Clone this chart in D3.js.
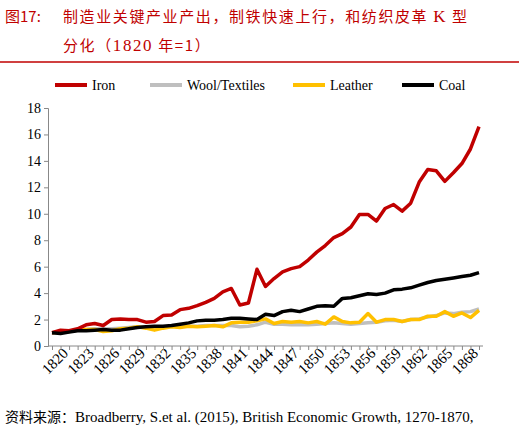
<!DOCTYPE html>
<html><head><meta charset="UTF-8">
<script src="https://d3js.org/d3.v7.min.js"></script>
<style>body{margin:0;background:#fff}</style>
</head><body>
<svg id="c" width="519" height="433"></svg>
<script>
var years = d3.range(1820, 1871);
var iron = [1.0,1.2,1.15,1.3,1.6,1.7,1.55,2.0,2.05,2.0,2.0,1.8,1.85,2.3,2.35,2.75,2.85,3.05,3.3,3.6,4.1,4.35,3.1,3.25,5.8,4.5,5.1,5.6,5.85,6.0,6.5,7.1,7.6,8.2,8.5,9.0,9.95,9.95,9.45,10.4,10.7,10.2,10.8,12.4,13.35,13.25,12.45,13.1,13.8,14.9,16.6];
var wool = [1.0,1.05,1.1,1.2,1.25,1.3,1.3,1.3,1.35,1.4,1.45,1.45,1.4,1.45,1.5,1.5,1.5,1.5,1.55,1.55,1.55,1.55,1.45,1.5,1.6,1.8,1.65,1.65,1.6,1.6,1.6,1.65,1.7,1.75,1.7,1.65,1.7,1.75,1.8,1.9,1.95,1.85,2.0,2.05,2.2,2.3,2.5,2.45,2.55,2.6,2.8];
var leather = [1.0,1.05,1.1,1.2,1.25,1.25,1.1,1.15,1.3,1.35,1.45,1.35,1.2,1.35,1.45,1.4,1.5,1.45,1.5,1.55,1.45,1.75,1.8,1.8,1.9,2.05,1.7,1.85,1.8,1.85,1.75,1.85,1.65,2.2,1.85,1.75,1.8,2.45,1.8,2.0,2.0,1.85,2.0,2.0,2.25,2.25,2.6,2.25,2.5,2.15,2.7];
var coal = [1.0,0.95,1.05,1.15,1.15,1.2,1.25,1.2,1.2,1.3,1.4,1.45,1.5,1.5,1.55,1.65,1.75,1.9,1.95,1.95,2.0,2.1,2.1,2.05,2.0,2.4,2.3,2.6,2.7,2.6,2.8,3.0,3.05,3.0,3.6,3.65,3.8,3.95,3.9,4.0,4.25,4.3,4.4,4.6,4.8,4.95,5.05,5.15,5.25,5.35,5.55];
var seriesNames = ["Iron", "Wool/Textiles", "Leather", "Coal"];
var seriesColors = ["#c00000", "#bfbfbf", "#ffc000", "#000000"];
var yTicks = d3.range(0, 19, 2);
var labelYears = d3.range(1820, 1870, 3);

var svg = d3.select("#c");
var serif = "'Liberation Serif','DejaVu Serif',serif";
var cjk = "'Noto Sans CJK SC',sans-serif";

// title
svg.append("text").attr("x", 5).attr("y", 22).attr("fill", "#c00000").attr("font-size", 15)
  .attr("font-family", cjk).text("图17:");
var t = svg.append("text").attr("x", 63).attr("y", 22).attr("fill", "#c00000").attr("font-size", 15).attr("letter-spacing", 1.6);
t.append("tspan").attr("font-family", cjk).text("制造业关键产业产出，制铁快速上行，和纺织皮革 ");
t.append("tspan").attr("font-family", serif).attr("font-size", 17).text("K");
t.append("tspan").attr("font-family", cjk).text(" 型");
var t2 = svg.append("text").attr("x", 63).attr("y", 51).attr("fill", "#c00000").attr("font-size", 15).attr("letter-spacing", 1.6);
t2.append("tspan").attr("font-family", cjk).text("分化（");
t2.append("tspan").attr("font-family", serif).attr("font-size", 17).text("1820");
t2.append("tspan").attr("font-family", cjk).text(" 年=1）");
svg.append("line").attr("x1", 0).attr("x2", 519).attr("y1", 62).attr("y2", 62).attr("stroke", "#c00000").attr("stroke-width", 1.5);

var x = d3.scaleLinear().domain([1820, 1870]).range([52, 479]);
var y = d3.scaleLinear().domain([0, 18]).range([346, 108]);

svg.append("g").attr("transform", "translate(48,0)")
  .call(d3.axisLeft(y).tickValues(yTicks).tickSize(4))
  .call(g => g.select(".domain").attr("stroke", "#888"))
  .call(g => g.selectAll(".tick line").attr("stroke", "#888"))
  .call(g => g.selectAll("text").attr("font-family", serif).attr("font-size", 14).attr("fill", "#000"));

svg.append("g").attr("transform", "translate(0,346)")
  .call(d3.axisBottom(x).tickValues(years).tickSize(4).tickFormat(d => labelYears.includes(d) ? d : ""))
  .call(g => g.select(".domain").attr("d", "M48,0H483").attr("stroke", "#888"))
  .call(g => g.selectAll(".tick line").attr("stroke", "#888"))
  .call(g => g.selectAll("text").attr("font-family", serif).attr("font-size", 15).attr("fill", "#000")
    .attr("text-anchor", "end").attr("dx", "0.4em").attr("dy", "0.7em").attr("transform", "rotate(-45)"));

var line = d3.line().x((d, i) => x(years[i])).y(d => y(d));
[wool, leather, iron, coal].forEach(function (s) {
  var k = [iron, wool, leather, coal].indexOf(s);
  svg.append("path").datum(s).attr("d", line).attr("fill", "none")
    .attr("stroke", seriesColors[k]).attr("stroke-width", 3.5).attr("stroke-linejoin", "round");
});

// legend
var lx = [55, 150, 293, 402];
seriesNames.forEach(function (n, i) {
  var g = svg.append("g").attr("transform", "translate(" + lx[i] + ",85)");
  g.append("line").attr("x1", 0).attr("x2", 32).attr("stroke", seriesColors[i]).attr("stroke-width", 4);
  g.append("text").attr("x", 37).attr("y", 5).attr("font-family", serif).attr("font-size", 14).text(n);
});

var f = svg.append("text").attr("x", 5).attr("y", 422).attr("font-size", 14);
f.append("tspan").attr("font-family", cjk).text("资料来源：");
f.append("tspan").attr("font-family", serif).attr("font-size", 15).text("Broadberry, S.et al. (2015), British Economic Growth, 1270-1870,");
</script>
</body></html>
